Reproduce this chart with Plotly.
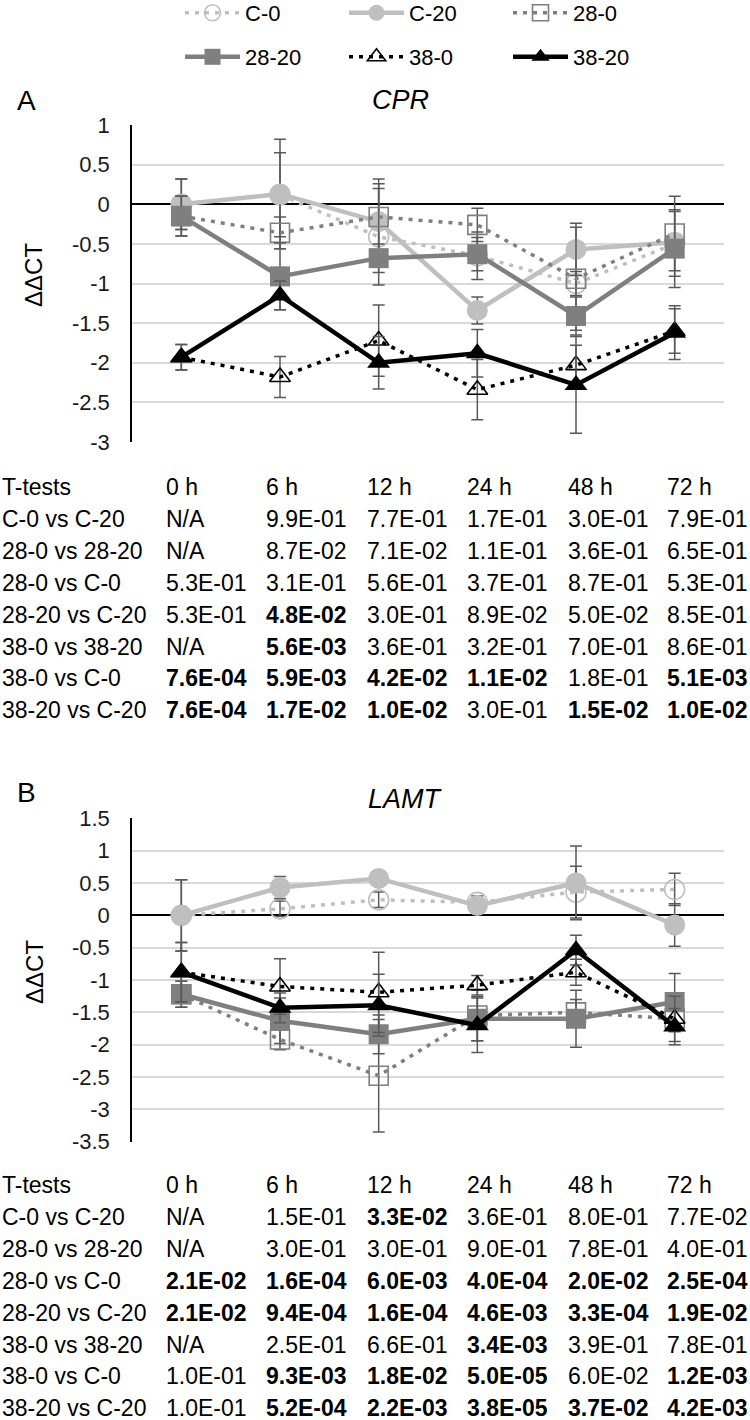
import plotly.graph_objects as go

# ---------------- data ----------------
categories = ["0 h", "6 h", "12 h", "24 h", "48 h", "72 h"]
series_names = ["C-0", "C-20", "28-0", "28-20", "38-0", "38-20"]

# Panel A : CPR  (ΔΔCT means and error-bar half lengths)
cpr_c0 = [0.0, 0.12, -0.41, -0.65, -1.00, -0.50]
cpr_c0_err = [0.32, 0.53, 0.61, 0.30, 0.15, 0.41]
cpr_c20 = [0.0, 0.13, -0.22, -1.34, -0.57, -0.48]
cpr_c20_err = [0.32, 0.69, 0.48, 0.17, 0.33, 0.10]
cpr_28_0 = [-0.15, -0.36, -0.16, -0.26, -0.94, -0.37]
cpr_28_0_err = [0.25, 0.20, 0.48, 0.21, 0.65, 0.47]
cpr_28_20 = [-0.15, -0.91, -0.68, -0.63, -1.41, -0.56]
cpr_28_20_err = [0.25, 0.42, 0.18, 0.21, 0.24, 0.49]
cpr_38_0 = [-1.93, -2.18, -1.72, -2.34, -2.03, -1.60]
cpr_38_0_err = [0.16, 0.26, 0.45, 0.38, 0.25, 0.28]
cpr_38_20 = [-1.93, -1.15, -2.00, -1.88, -2.28, -1.62]
cpr_38_20_err = [0.16, 0.18, 0.33, 0.30, 0.61, 0.34]

# Panel B : LAMT
lamt_c0 = [0.0, 0.10, 0.24, 0.20, 0.36, 0.40]
lamt_c0_err = [0.55, 0.12, 0.12, 0.10, 0.40, 0.25]
lamt_c20 = [0.0, 0.43, 0.57, 0.15, 0.50, -0.15]
lamt_c20_err = [0.55, 0.17, 0.10, 0.10, 0.57, 0.33]
lamt_28_0 = [-1.22, -1.92, -2.48, -1.55, -1.50, -1.60]
lamt_28_0_err = [0.20, 0.16, 0.87, 0.39, 0.20, 0.20]
lamt_28_20 = [-1.22, -1.63, -1.84, -1.60, -1.60, -1.34]
lamt_28_20_err = [0.20, 0.35, 0.30, 0.34, 0.44, 0.44]
lamt_38_0 = [-0.88, -1.10, -1.19, -1.08, -0.88, -1.60]
lamt_38_0_err = [0.46, 0.43, 0.62, 0.15, 0.20, 0.35]
lamt_38_20 = [-0.88, -1.43, -1.39, -1.70, -0.54, -1.72]
lamt_38_20_err = [0.46, 0.23, 0.48, 0.42, 0.23, 0.28]

cpr_ticks = [1, 0.5, 0, -0.5, -1, -1.5, -2, -2.5, -3]
lamt_ticks = [1.5, 1, 0.5, 0, -0.5, -1, -1.5, -2, -2.5, -3, -3.5]

test_header = ["T-tests", "0 h", "6 h", "12 h", "24 h", "48 h", "72 h"]
test_names = ["C-0 vs C-20", "28-0 vs 28-20", "28-0 vs C-0", "28-20 vs C-20",
              "38-0 vs 38-20", "38-0 vs C-0", "38-20 vs C-20"]
cpr_pvalues = [
    ["N/A", "9.9E-01", "7.7E-01", "1.7E-01", "3.0E-01", "7.9E-01"],
    ["N/A", "8.7E-02", "7.1E-02", "1.1E-01", "3.6E-01", "6.5E-01"],
    ["5.3E-01", "3.1E-01", "5.6E-01", "3.7E-01", "8.7E-01", "5.3E-01"],
    ["5.3E-01", "4.8E-02", "3.0E-01", "8.9E-02", "5.0E-02", "8.5E-01"],
    ["N/A", "5.6E-03", "3.6E-01", "3.2E-01", "7.0E-01", "8.6E-01"],
    ["7.6E-04", "5.9E-03", "4.2E-02", "1.1E-02", "1.8E-01", "5.1E-03"],
    ["7.6E-04", "1.7E-02", "1.0E-02", "3.0E-01", "1.5E-02", "1.0E-02"],
]
lamt_pvalues = [
    ["N/A", "1.5E-01", "3.3E-02", "3.6E-01", "8.0E-01", "7.7E-02"],
    ["N/A", "3.0E-01", "3.0E-01", "9.0E-01", "7.8E-01", "4.0E-01"],
    ["2.1E-02", "1.6E-04", "6.0E-03", "4.0E-04", "2.0E-02", "2.5E-04"],
    ["2.1E-02", "9.4E-04", "1.6E-04", "4.6E-03", "3.3E-04", "1.9E-02"],
    ["N/A", "2.5E-01", "6.6E-01", "3.4E-03", "3.9E-01", "7.8E-01"],
    ["1.0E-01", "9.3E-03", "1.8E-02", "5.0E-05", "6.0E-02", "1.2E-03"],
    ["1.0E-01", "5.2E-04", "2.2E-03", "3.8E-05", "3.7E-02", "4.2E-03"],
]

# ---------------- styling / layout ----------------
W, H = 750, 1420
FONT = "Arial, 'Liberation Sans', sans-serif"


def fx(px):
    return px / W


def fy(py):
    return 1 - py / H


LIGHT = "#BFBFBF"
MID = "#7F7F7F"
DARK = "#000000"
DOT = "4px,6px"
styles = {
    "C-0": dict(color=LIGHT, dash=DOT, width=3.5, symbol="circle-open", size=20, legend="legend"),
    "C-20": dict(color=LIGHT, dash="solid", width=4.5, symbol="circle", size=21, legend="legend"),
    "28-0": dict(color=MID, dash=DOT, width=3.5, symbol="square-open", size=19, legend="legend"),
    "28-20": dict(color=MID, dash="solid", width=4.5, symbol="square", size=20, legend="legend2"),
    "38-0": dict(color=DARK, dash=DOT, width=3.5, symbol="triangle-up-open", size=18, legend="legend2"),
    "38-20": dict(color=DARK, dash="solid", width=4.5, symbol="triangle-up", size=20, legend="legend2"),
}

panels = [
    dict(xaxis="x", yaxis="y",
         values=[cpr_c0, cpr_c20, cpr_28_0, cpr_28_20, cpr_38_0, cpr_38_20],
         errors=[cpr_c0_err, cpr_c20_err, cpr_28_0_err, cpr_28_20_err, cpr_38_0_err, cpr_38_20_err],
         show=True),
    dict(xaxis="x2", yaxis="y2",
         values=[lamt_c0, lamt_c20, lamt_28_0, lamt_28_20, lamt_38_0, lamt_38_20],
         errors=[lamt_c0_err, lamt_c20_err, lamt_28_0_err, lamt_28_20_err, lamt_38_0_err, lamt_38_20_err],
         show=False),
]

fig = go.Figure()
for p in panels:
    for name, vals, errs in zip(series_names, p["values"], p["errors"]):
        st = styles[name]
        open_marker = st["symbol"].endswith("open")
        fig.add_trace(go.Scatter(
            x=categories, y=vals, name=name, mode="lines+markers",
            xaxis=p["xaxis"], yaxis=p["yaxis"],
            line=dict(color=st["color"], width=st["width"], dash=st["dash"]),
            marker=dict(symbol=st["symbol"], size=st["size"], color=st["color"],
                        line=dict(width=1.6 if open_marker else 0, color=st["color"])),
            error_y=dict(type="data", array=errs, visible=True, color="#595959",
                         thickness=1.5, width=6),
            showlegend=p["show"], legend=st["legend"],
        ))

xdom = [fx(132), fx(724)]
axis_x = dict(type="category", categoryorder="array", categoryarray=categories,
              range=[-0.5, 5.5], showticklabels=False, showgrid=False,
              showline=False, zeroline=False, ticks="")


def yaxis(ticks, rng, dom):
    return dict(range=rng, domain=dom, tickmode="array", tickvals=ticks,
                ticktext=[f"{t:g}" for t in ticks], showgrid=True,
                gridcolor="#D9D9D9", gridwidth=1.5, zeroline=True,
                zerolinecolor="black", zerolinewidth=1.5, showline=True,
                linecolor="black", linewidth=1.5, ticks="outside", ticklen=16,
                tickcolor="rgba(0,0,0,0)",
                tickfont=dict(family=FONT, size=22, color="#1a1a1a"))


legend_common = dict(orientation="h", xanchor="left", yanchor="top",
                     font=dict(family=FONT, size=22, color="black"), itemwidth=55,
                     entrywidth=94, entrywidthmode="pixels", bgcolor="rgba(0,0,0,0)",
                     traceorder="normal")

fig.update_layout(
    width=W, height=H,
    margin=dict(l=0, r=0, t=0, b=0, pad=0, autoexpand=False),
    paper_bgcolor="white", plot_bgcolor="white",
    font=dict(family=FONT, color="black"),
    xaxis=dict(axis_x, domain=xdom, anchor="y"),
    xaxis2=dict(axis_x, domain=xdom, anchor="y2"),
    yaxis=yaxis(cpr_ticks, [-3.0, 1.0], [fy(442), fy(125)]) | dict(anchor="x"),
    yaxis2=yaxis(lamt_ticks, [-3.5, 1.5], [fy(1141.7), fy(818.3)]) | dict(anchor="x2"),
    legend=dict(legend_common, x=fx(180), y=fy(-8)),
    legend2=dict(legend_common, x=fx(180), y=fy(36)),
)

ann = []


def text(x, y, s, size=23, anchor="left", **kw):
    ann.append(dict(x=fx(x), y=fy(y), xref="paper", yref="paper", text=s,
                    showarrow=False, xanchor=anchor, yanchor="middle",
                    font=dict(family=FONT, size=size, color="black"), **kw))


# panel letters, gene titles, y-axis titles
text(15, 100, "A", size=28)
text(15, 792, "B", size=28)
text(401, 100, "<i>CPR</i>", size=27, anchor="center")
text(405, 799, "<i>LAMT</i>", size=27, anchor="center")
text(34, 275, "ΔΔCT", size=24, anchor="center", textangle=-90)
text(34, 972, "ΔΔCT", size=24, anchor="center", textangle=-90)

# t-test tables
col_x = [0, 164, 264, 365, 465, 566, 665]
for top, table in [(487, cpr_pvalues), (1185, lamt_pvalues)]:
    for j, h in enumerate(test_header):
        text(col_x[j], top, h)
    for i, (tname, row) in enumerate(zip(test_names, table)):
        yy = top + 31.9 * (i + 1)
        text(col_x[0], yy, tname)
        for j, v in enumerate(row):
            sig = v != "N/A" and float(v) < 0.05
            text(col_x[j + 1], yy, f"<b>{v}</b>" if sig else v)

fig.update_layout(annotations=ann)
fig.write_html(
    "out.html",
    config={"displayModeBar": False},
    post_script="document.body.style.margin='0px';document.body.style.overflow='hidden';",
)
